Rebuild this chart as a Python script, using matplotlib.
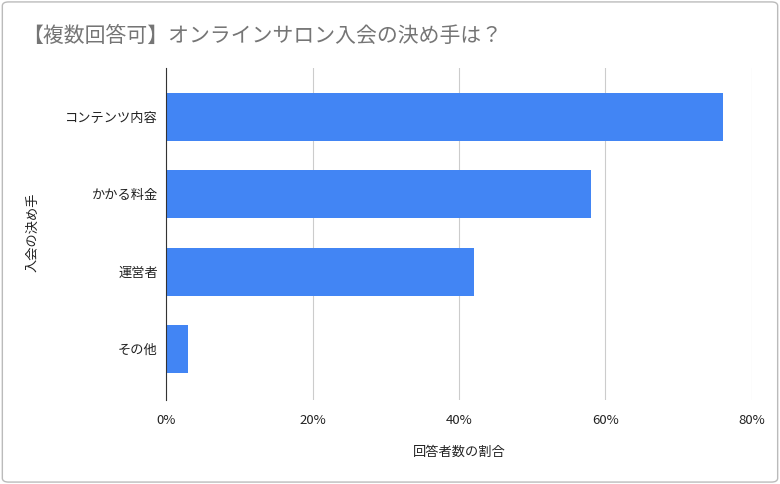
import matplotlib.pyplot as plt
from matplotlib.patches import FancyBboxPatch
from matplotlib.ticker import FuncFormatter

plt.rcParams['font.family'] = 'Noto Sans CJK JP'

categories = ['コンテンツ内容', 'かかる料金', '運営者', 'その他']
values = [76, 58, 42, 3]
xticks = [0, 20, 40, 60, 80]

fig = plt.figure(figsize=(7.8, 4.84), dpi=100)
fig.patches.append(FancyBboxPatch((0.003, 0.004), 0.994, 0.992, boxstyle='round,pad=0,rounding_size=0.008',
                                  transform=fig.transFigure, fill=False, edgecolor='#bbbbbb', linewidth=1))
ax = fig.add_axes([0.213, 0.174, 0.751, 0.686])

pos = range(len(categories))
ax.barh(pos, values, height=0.62, color='#4285f4')
ax.set_yticks(list(pos))
ax.set_yticklabels(categories, fontsize=9.5, color='#222222')
ax.set_ylim(3.66, -0.64)
ax.set_xlim(0, 80)
ax.set_xticks(xticks)
ax.xaxis.set_major_formatter(FuncFormatter(lambda v, p: f'{int(v)}%'))
ax.tick_params(axis='x', labelsize=9.5, colors='#222222', length=0, pad=10)
ax.tick_params(axis='y', length=0, pad=6)
ax.grid(axis='x', color='#cccccc', linewidth=0.8)
ax.set_axisbelow(True)
for s in ['top', 'right', 'bottom']:
    ax.spines[s].set_visible(False)
ax.spines['left'].set_color('#333333')
ax.set_xlabel('回答者数の割合', fontsize=9.5, color='#222222', labelpad=14)
fig.text(0.042, 0.52, '入会の決め手', fontsize=9.5, color='#222222', rotation=90, ha='center', va='center')

fig.text(0.028, 0.925, '【複数回答可】オンラインサロン入会の決め手は？', fontsize=15, color='#757575', va='center')

fig.savefig('out.png', dpi=100)
